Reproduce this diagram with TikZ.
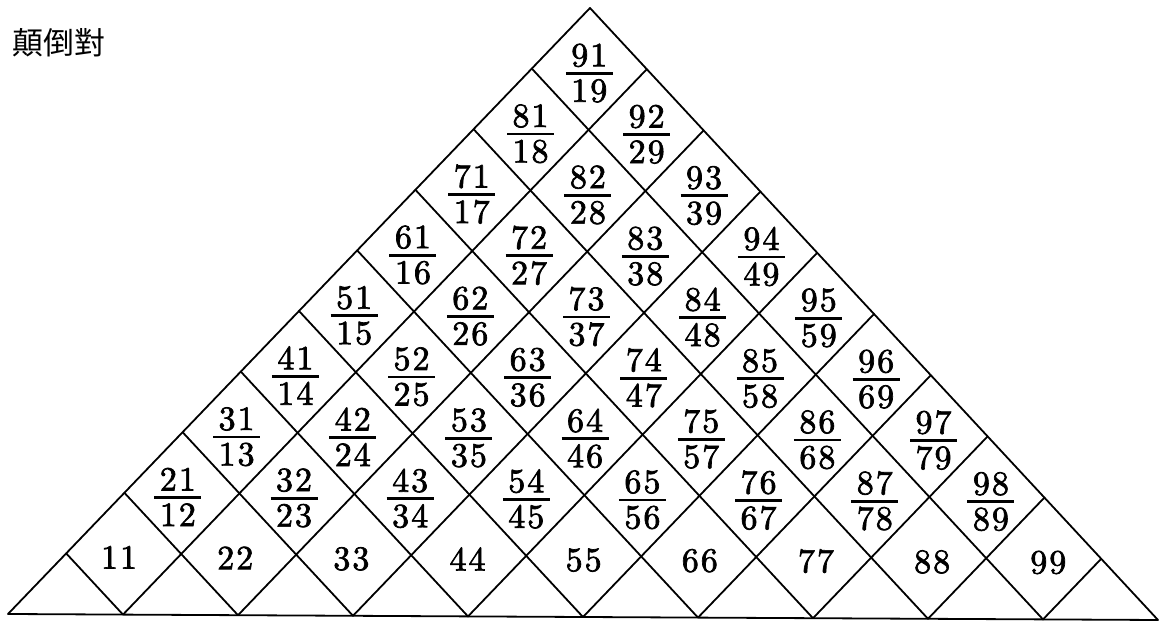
\documentclass[tikz,border=0pt]{standalone}
\usepackage{fontspec}
\newfontfamily\cjkfont{Noto Sans CJK TC}
\newfontfamily\digitfont{lmroman10-regular.otf}[FakeBold=2,LetterSpace=6]
\usetikzlibrary{calc}
\tikzset{
  gridline/.style={line width=1.8pt, line cap=round, line join=round},
  digits/.style={inner sep=0pt, text height=21.9pt, text depth=0pt, font=\digitfont\fontsize{34}{37}\selectfont},
  fracbar/.style={line width=2.7pt},
  title/.style={font=\cjkfont\fontsize{31}{34}\selectfont, anchor=west, inner sep=0pt}
}
\begin{document}
\begin{tikzpicture}
\useasboundingbox (0,0) rectangle (1162pt,623pt);
\node[title] (title) at (12pt,580pt) {顛倒對};
\begin{scope}[shift={(8pt,9pt)}, x={(57.5pt,-0.3pt)}, y={(0.7pt,60.9pt)}]
  \coordinate (L) at (0,0);
  \coordinate (R) at (20,0);
  \coordinate (T) at (10,10);
  \draw[gridline] (L) -- (R) -- (T) -- cycle;
  \foreach \k in {1,...,9} {
    \coordinate (b\k) at ({2*\k},0);
    \coordinate (r\k) at ({\k+10},{10-\k});
    \coordinate (l\k) at (\k,\k);
    \draw[gridline] (b\k) -- (r\k);
    \draw[gridline] (b\k) -- (l\k);
  }
  % bottom row: 11 ... 99
  \foreach \i in {0,...,8} {
    \pgfmathtruncatemacro\a{\i+1}
    \pgfmathtruncatemacro\u{2*\i+2}
    \pgfmathsetmacro\dx{0.575*(\u-10)}
    \coordinate (c\a\a) at (\u,1);
    \node[digits] (s\a\a) at ($(c\a\a)+(\dx pt,-4pt)$) {\a\a};
  }
  % fractions
  \foreach \d in {2,...,9} {
    \pgfmathtruncatemacro\imax{9-\d}
    \foreach \i in {0,...,\imax} {
      \pgfmathtruncatemacro\j{\i+\d}
      \pgfmathtruncatemacro\a{\i+1}
      \pgfmathtruncatemacro\u{2*\i+\d+1}
      \pgfmathsetmacro\dx{0.575*(\u-10)}
      \pgfmathsetmacro\xl{\dx-23.5}
      \pgfmathsetmacro\xr{\dx+23.5}
      \coordinate (c\j\a) at (\u,\d);
      \node[digits] (n\j\a) at ($(c\j\a)+(\dx pt,13.5pt)$) {\j\a};
      \node[digits] (m\j\a) at ($(c\j\a)+(\dx pt,-22pt)$) {\a\j};
      \coordinate (bl\j\a) at ($(c\j\a)+(\xl pt,-4.5pt)$);
      \coordinate (br\j\a) at ($(c\j\a)+(\xr pt,-4.5pt)$);
      \draw[fracbar] (bl\j\a) -- (br\j\a);
    }
  }
\end{scope}
\end{tikzpicture}
\end{document}
